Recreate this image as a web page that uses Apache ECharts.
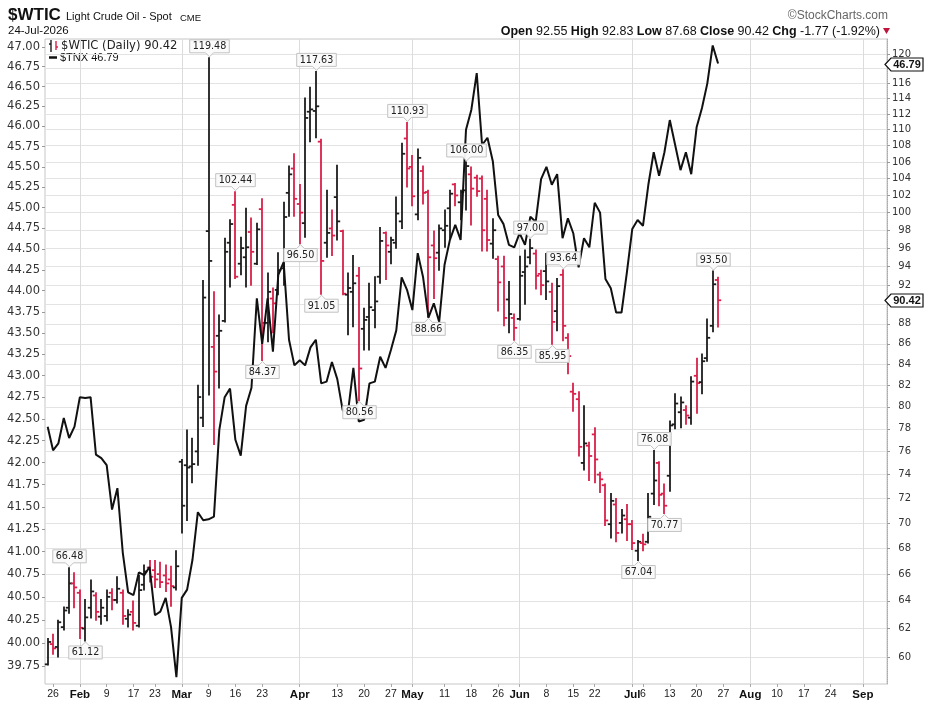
<!DOCTYPE html>
<html><head><meta charset="utf-8">
<script src="https://cdn.jsdelivr.net/npm/echarts@6/dist/echarts.min.js"></script>
<style>html,body{margin:0;padding:0;background:#fff}#c{width:929px;height:708px}</style>
</head><body><div id="c"></div>
<script>
// ---- categories: trading days (2026) ----
const tradingDays = [
 ['Jan','23 26 27 28 29 30'],
 ['Feb','2 3 4 5 6 9 10 11 12 13 17 18 19 20 23 24 25 26 27'],
 ['Mar','2 3 4 5 6 9 10 11 12 13 16 17 18 19 20 23 24 25 26 27 30 31'],
 ['Apr','1 2 6 7 8 9 10 13 14 15 16 17 20 21 22 23 24 27 28 29 30'],
 ['May','1 4 5 6 7 8 11 12 13 14 15 18 19 20 21 22 26 27 28 29'],
 ['Jun','1 2 3 4 5 8 9 10 11 12 15 16 17 18 22 23 24 25 26 29 30'],
 ['Jul','1 2 6 7 8 9 10 13 14 15 16 17 20 21 22 23 24 27 28 29 30 31'],
 ['Aug','3 4 5 6 7 10 11 12 13 14 17 18 19 20 21 24 25 26 27 28 31'],
 ['Sep','1 2 3 4 8']
];
const categories = [];
tradingDays.forEach(([m, s]) => s.split(' ').forEach(d => categories.push(m + ' ' + d)));

const xLabelDates = ['Jan 26','Feb 2','Feb 9','Feb 17','Feb 23','Mar 2','Mar 9','Mar 16','Mar 23','Apr 1','Apr 13','Apr 20','Apr 27','May 1','May 11','May 18','May 26','Jun 1','Jun 8','Jun 15','Jun 22','Jul 1','Jul 6','Jul 13','Jul 20','Jul 27','Aug 3','Aug 10','Aug 17','Aug 24','Sep 1'];
const monthStarts = ['Feb 2','Mar 2','Apr 1','May 1','Jun 1','Jul 1','Aug 3','Sep 1'];

// ---- axis ticks ----
const leftTicks = [39.75,40.00,40.25,40.50,40.75,41.00,41.25,41.50,41.75,42.00,42.25,42.50,42.75,43.00,43.25,43.50,43.75,44.00,44.25,44.50,44.75,45.00,45.25,45.50,45.75,46.00,46.25,46.50,46.75,47.00];
const rightTicks = [60,62,64,66,68,70,72,74,76,78,80,82,84,86,88,90,92,94,96,98,100,102,104,106,108,110,112,114,116,118,120];

// ---- $WTIC daily OHLC ----
const wticOpen = [59.5,60.9,60.7,62.1,63.5,65.3,64.6,62.0,63.5,64.4,
 62.85,62.9,64.6,64.07,64.6,62.7,63.2,62.2,65.2,66.5,
 66.3,66.0,65.9,65.6,65.0,75.1,74.8,74.7,76.0,79.0,
 97.9,85.7,86.8,88.3,96.6,100.9,94.3,95.0,97.8,94.3,
 100.4,88.1,90.6,91.5,93.8,102.3,105.2,101.0,98.8,112.3,
 112.4,108.5,96.6,98.2,101.8,97.9,91.0,91.3,93.0,87.5,
 88.7,89.4,92.9,97.7,95.6,96.6,99.0,108.9,105.4,99.8,
 104.9,102.4,96.3,95.5,98.0,100.5,103.3,101.2,102.6,104.5,
 104.1,104.0,101.6,96.5,94.8,94.0,90.5,88.6,88.5,93.4,
 95.0,95.4,93.2,93.5,91.3,89.3,93.1,86.6,81.4,80.7,
 75.0,76.5,77.5,74.0,73.1,69.9,71.5,70.0,70.3,69.9,
 67.8,68.4,68.5,72.4,75.0,72.4,73.9,78.4,79.5,79.7,
 79.0,82.9,82.3,84.6,87.8,92.55];
const wticHigh = [61.3,61.6,62.6,63.55,66.48,66.1,64.8,64.1,65.56,64.6,
 64.1,64.8,64.9,65.8,64.8,63.35,64.0,65.9,66.7,67.05,
 67.05,66.9,66.7,66.6,67.8,75.3,77.9,77.15,82.0,92.5,
 119.48,91.3,88.9,97.1,99.2,102.44,97.2,100.5,99.4,98.8,
 101.6,93.3,91.7,95.5,101.2,105.5,107.0,103.3,114.1,115.5,
 117.63,108.8,102.6,100.3,105.6,98.0,93.3,95.2,93.9,89.6,
 92.2,92.9,98.3,97.8,97.2,101.8,108.3,110.93,106.8,107.6,
 105.5,102.6,97.9,98.6,100.3,102.6,103.4,102.6,106.0,105.4,
 104.4,104.3,102.6,99.3,95.1,95.1,92.4,89.0,95.1,95.8,
 97.0,95.8,93.6,95.4,92.2,92.7,93.64,87.0,82.2,81.4,
 80.1,76.8,78.1,74.2,73.2,72.4,72.0,71.1,71.5,70.2,
 68.6,69.1,72.4,76.08,75.1,73.2,78.7,81.2,80.9,80.1,
 82.8,84.6,85.0,88.5,93.5,92.83];
const wticLow = [59.45,60.2,60.0,61.9,63.1,63.5,61.3,61.12,62.75,62.6,
 62.3,62.55,63.35,63.85,62.3,62.1,61.9,62.1,64.8,65.4,
 65.0,65.0,64.7,63.6,64.8,69.2,70.2,73.3,74.8,78.2,
 81.1,76.6,81.75,88.2,91.8,92.7,93.1,91.8,92.0,94.2,
 84.37,86.2,87.1,91.0,92.0,99.6,99.6,96.5,97.2,108.5,
 109.0,91.05,95.0,95.2,96.9,91.0,86.9,87.7,80.56,85.4,
 85.4,87.6,92.2,92.6,94.3,96.0,98.2,103.0,100.8,99.2,
 101.0,88.66,90.6,93.6,96.1,97.1,100.8,99.2,100.3,98.6,
 101.9,95.7,95.7,94.9,89.3,87.8,87.1,86.35,88.4,90.0,
 94.3,91.6,91.0,90.5,85.95,87.3,86.3,83.1,79.6,75.6,
 74.4,73.5,73.3,72.5,69.8,68.8,68.5,69.2,68.6,67.9,
 67.04,67.8,68.4,71.5,71.4,70.77,72.6,78.0,78.1,78.4,
 78.4,79.4,81.2,84.3,87.2,87.68];
const wticClose = [61.05,60.6,62.45,63.3,65.3,65.0,62.05,62.8,64.7,63.2,
 63.5,64.3,64.07,64.9,62.9,63.0,62.4,64.8,66.2,65.8,
 65.6,65.4,65.3,65.1,66.6,71.4,74.6,74.9,80.9,90.7,
 94.6,83.3,87.3,95.6,98.7,92.9,96.0,96.1,95.6,98.1,
 88.1,91.3,90.1,93.6,99.5,104.5,101.6,100.0,111.5,112.6,
 113.0,94.6,97.7,97.4,99.0,91.1,91.7,92.2,83.6,88.4,
 89.7,90.3,96.8,96.3,96.9,99.9,107.0,105.2,101.9,106.5,
 102.3,95.0,94.9,98.2,98.5,102.2,102.0,102.4,105.5,102.8,
 102.5,98.0,96.9,98.0,92.3,88.6,89.0,87.6,93.0,94.0,
 96.0,93.0,92.0,92.4,88.2,91.9,87.8,84.8,81.2,76.4,
 76.7,75.6,75.3,73.6,70.2,71.8,69.2,70.6,69.9,68.4,
 68.5,68.3,70.5,73.5,72.3,71.4,78.3,80.3,80.4,79.2,
 82.35,82.2,84.3,86.6,92.1,90.42];

// ---- $TNX daily close ----
const tnx = [42.41,42.14,42.22,42.51,42.28,42.41,42.75,42.74,42.75,42.09,
 42.05,41.97,41.47,41.71,40.99,40.55,40.52,40.77,40.74,40.83,
 40.30,40.34,40.49,40.17,39.63,40.49,40.58,40.91,41.44,41.35,
 41.36,41.39,42.37,42.75,42.85,42.26,42.08,42.65,42.86,43.91,
 43.37,43.91,43.28,44.19,44.34,43.42,43.12,43.18,43.12,43.33,
 43.42,42.91,42.93,43.16,42.96,42.60,42.58,43.09,42.47,42.49,
 42.91,42.93,43.22,43.09,43.30,43.53,44.16,44.01,43.77,44.45,
 44.16,43.68,43.85,43.63,44.31,44.61,44.79,44.61,45.96,46.21,
 46.67,45.77,45.86,45.57,44.91,44.80,44.55,44.52,44.69,44.55,
 44.89,44.83,45.35,45.50,45.28,45.41,44.63,44.87,44.69,44.28,
 44.63,44.52,45.06,44.94,44.14,44.03,43.74,43.74,44.22,44.74,
 44.85,44.78,45.28,45.68,45.39,45.68,46.08,45.77,45.46,45.68,
 45.41,45.99,46.23,46.54,47.02,46.79];

// ---- price annotations (bar index, value, side: 1 above high / -1 below low) ----
const annoIndex = [4,7,30,35,40,47,50,51,58,67,71,78,87,90,94,96,110,113,115,124];
const annoValue = [66.48,61.12,119.48,102.44,84.37,96.50,117.63,91.05,80.56,110.93,88.66,106.00,86.35,97.00,85.95,93.64,67.04,76.08,70.77,93.50];
const annoSide  = [1,-1,1,1,-1,-1,1,-1,-1,1,-1,1,-1,1,-1,1,-1,1,-1,1];

const RED = '#d9204a', BLK = '#1c1c1c';
const labelIdx = new Map(xLabelDates.map(d => [categories.indexOf(d), d]));
const monthIdx = new Set(monthStarts.map(d => categories.indexOf(d)));

const mctx = document.createElement('canvas').getContext('2d');
function tw(t, font){ mctx.font = font; return mctx.measureText(t).width; }

const ohlc = wticOpen.map((o, i) => [i, o, wticHigh[i], wticLow[i], wticClose[i]]);

function renderBar(params, api){
  const i = params.dataIndex;
  const pH = api.coord([i, wticHigh[i]]), pL = api.coord([i, wticLow[i]]);
  const pO = api.coord([i, wticOpen[i]]), pC = api.coord([i, wticClose[i]]);
  const up = i === 0 || wticClose[i] >= wticClose[i-1];
  const st = {stroke: up ? BLK : RED, lineWidth: 1.8};
  const x = Math.round(pH[0]);
  return {type:'group', children:[
    {type:'line', shape:{x1:x, y1:pH[1]-0.5, x2:x, y2:pL[1]+0.5}, style:st},
    {type:'line', shape:{x1:x-3.2, y1:pO[1], x2:x, y2:pO[1]}, style:st},
    {type:'line', shape:{x1:x, y1:pC[1], x2:x+3.2, y2:pC[1]}, style:st}
  ]};
}

const AFONT = '9.6px "DejaVu Sans"';
function renderAnno(params, api){
  const k = params.dataIndex;
  const p = api.coord([annoIndex[k], annoValue[k]]);
  const txt = annoValue[k].toFixed(2);
  const w = tw(txt, AFONT) + 6, h = 13;
  const x = Math.round(p[0]) + 0.5;
  const upSide = annoSide[k] > 0;
  const yTip = upSide ? p[1] - 1 : p[1] + 1;
  const yBase = upSide ? p[1] - 5 : p[1] + 5;
  const yFar = upSide ? yBase - h : yBase + h;
  const l = x - w/2, r = x + w/2;
  const pts = [[l,yFar],[r,yFar],[r,yBase],[x+4,yBase],[x,yTip],[x-4,yBase],[l,yBase]];
  return {type:'group', children:[
    {type:'polygon', shape:{points:pts}, style:{fill:'rgba(250,250,250,0.95)', stroke:'#c2c2c2', lineWidth:1}},
    {type:'text', style:{text:txt, x:x, y:(yBase+yFar)/2+0.5, align:'center', verticalAlign:'middle', textAlign:'center', textVerticalAlign:'middle', font:AFONT, fill:'#222'}}
  ]};
}

const TFONT = 'bold 11px "Liberation Sans"';
function renderTag(params, api){
  const p = api.coord([api.value(0), api.value(1)]);
  const x0 = params.coordSys.x + params.coordSys.width;
  const y = Math.round(p[1]) + 0.5;
  const txt = api.value(1).toFixed(2);
  const pts = [[x0-2,y],[x0+4,y-6.5],[x0+36,y-6.5],[x0+36,y+6.5],[x0+4,y+6.5]];
  return {type:'group', children:[
    {type:'polygon', shape:{points:pts}, style:{fill:'#fff', stroke:'#111', lineWidth:1.2}},
    {type:'text', style:{text:txt, x:x0+20, y:y+0.5, align:'center', verticalAlign:'middle', textAlign:'center', textVerticalAlign:'middle', font:TFONT, fill:'#111'}}
  ]};
}

const chart = echarts.init(document.getElementById('c'), null, {renderer:'canvas'});
const HF = '"Liberation Sans",Arial,sans-serif';
chart.setOption({
  animation:false,
  backgroundColor:'#fff',
  grid:{left:45, right:42, top:39, bottom:24, show:true, borderColor:'#c6c6c6', borderWidth:1, outerBoundsMode:'none', containLabel:false},
  xAxis:{
    type:'category', data:categories, boundaryGap:true,
    axisLine:{show:false},
    axisTick:{show:true, alignWithLabel:true, length:3, interval:(i)=>labelIdx.has(i), lineStyle:{color:'#aaa'}},
    axisLabel:{
      interval:(i)=>labelIdx.has(i), hideOverlap:false, margin:5,
      formatter:(v, i)=>{ const d = categories[i]; if (monthIdx.has(i)) return '{m|' + d.split(' ')[0] + '}'; return '{d|' + d.split(' ')[1] + '}'; },
      rich:{m:{fontFamily:HF, fontWeight:'bold', fontSize:11.5, color:'#111'}, d:{fontFamily:HF, fontSize:10.5, color:'#222'}}
    },
    splitLine:{show:true, interval:(i)=>monthIdx.has(i), alignWithLabel:true, lineStyle:{color:'#dcdcdc', width:1}}
  },
  yAxis:[
    {type:'log', logBase:10, min:39.557, max:47.102, position:'left',
     axisLine:{show:false},
     axisTick:{show:true, length:3, customValues:leftTicks, lineStyle:{color:'#999'}},
     axisLabel:{customValues:leftTicks, formatter:(v)=>Number(v).toFixed(2), fontFamily:'"DejaVu Sans"', fontSize:11.5, color:'#333', margin:5},
     splitLine:{show:false}},
    {type:'log', logBase:10, min:58.17, max:122.09, position:'right',
     axisLine:{show:true, lineStyle:{color:'#aaa', type:'dotted'}},
     axisTick:{show:true, length:3, customValues:rightTicks, lineStyle:{color:'#999'}},
     axisLabel:{customValues:rightTicks, formatter:(v)=>String(Math.round(v)), fontFamily:'"DejaVu Sans"', fontSize:10, color:'#333', margin:24, align:'right'},
     splitLine:{show:true, lineStyle:{color:'#e3e3e3', width:1}}}
  ],
  series:[
    {type:'custom', name:'$WTIC', xAxisIndex:0, yAxisIndex:1, data:ohlc, renderItem:renderBar, encode:{x:0, y:[1,2,3,4]}, z:2, silent:true},
    {type:'line', name:'$TNX', xAxisIndex:0, yAxisIndex:0, data:tnx, symbol:'none', lineStyle:{color:'#111', width:2}, z:3, silent:true},
    {type:'custom', name:'labels', xAxisIndex:0, yAxisIndex:1, data:annoIndex.map((ix,k)=>[ix, annoValue[k]]), renderItem:renderAnno, encode:{x:0, y:1}, z:4, silent:true, clip:false},
    {type:'custom', name:'tagTNX', xAxisIndex:0, yAxisIndex:0, data:[[tnx.length-1, tnx[tnx.length-1]]], renderItem:renderTag, encode:{x:0, y:1}, z:5, silent:true, clip:false},
    {type:'custom', name:'tagWTIC', xAxisIndex:0, yAxisIndex:1, data:[[wticClose.length-1, wticClose[wticClose.length-1]]], renderItem:renderTag, encode:{x:0, y:1}, z:5, silent:true, clip:false}
  ],
  graphic:[
    {type:'text', left:8, top:7, style:{text:'$WTIC', font:'bold 17px ' + HF, fill:'#111'}},
    {type:'text', left:66, top:11, style:{text:'Light Crude Oil - Spot', font:'11px ' + HF, fill:'#111'}},
    {type:'text', left:180, top:13, style:{text:'CME', font:'9.5px ' + HF, fill:'#111'}},
    {type:'text', left:8, top:25, style:{text:'24-Jul-2026', font:'11.5px ' + HF, fill:'#111'}},
    {type:'text', right:41, top:10, style:{text:'©StockCharts.com', font:'12px ' + HF, fill:'#666'}},
    {type:'text', right:49, top:25, style:{
      text:'{b|Open} 92.55 {b|High} 92.83 {b|Low} 87.68 {b|Close} 90.42 {b|Chg} -1.77 (-1.92%)',
      font:'12.5px ' + HF, fill:'#111',
      rich:{b:{fontWeight:'bold', fontFamily:HF, fontSize:12.5, fill:'#111'}}}},
    {type:'polygon', shape:{points:[[883,28],[890,28],[886.5,34]]}, style:{fill:'#c0143c'}},
    // legend
    {type:'line', shape:{x1:51,y1:40,x2:51,y2:52}, style:{stroke:BLK, lineWidth:1.4}},
    {type:'line', shape:{x1:49,y1:44,x2:51,y2:44}, style:{stroke:BLK, lineWidth:1.4}},
    {type:'line', shape:{x1:56,y1:41,x2:56,y2:50}, style:{stroke:RED, lineWidth:1.4}},
    {type:'line', shape:{x1:56,y1:47,x2:58,y2:47}, style:{stroke:RED, lineWidth:1.4}},
    {type:'text', left:61, top:40, style:{text:'$WTIC (Daily) 90.42', font:'11.6px "DejaVu Sans"', fill:'#222'}},
    {type:'line', shape:{x1:49,y1:57.5,x2:57,y2:57.5}, style:{stroke:'#111', lineWidth:2.5}},
    {type:'text', left:60, top:52, style:{text:'$TNX 46.79', font:'11px ' + HF, fill:'#111'}}
  ]
});
</script></body></html>
